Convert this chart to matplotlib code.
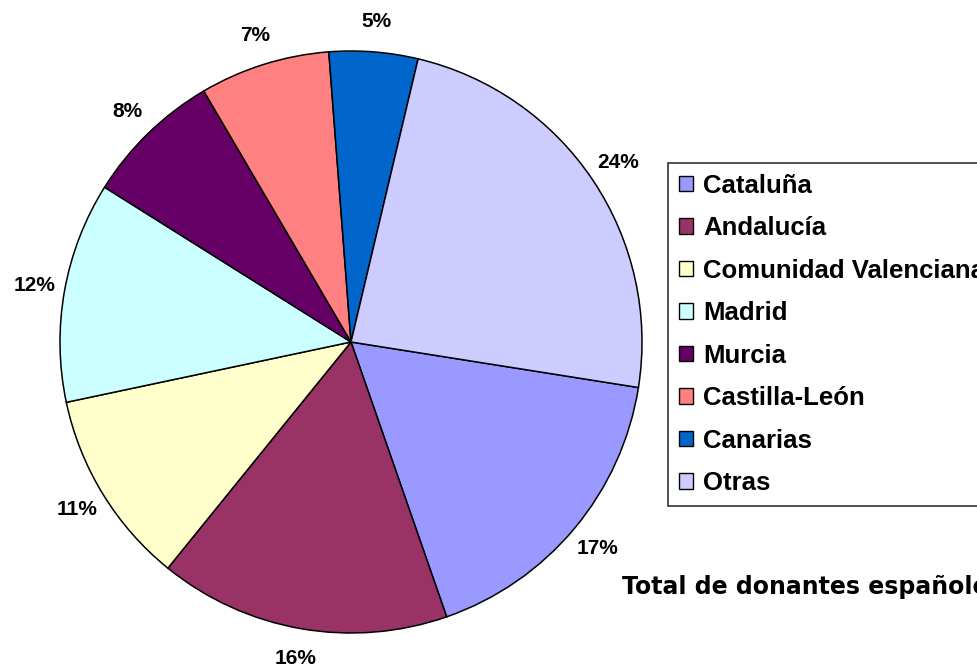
import matplotlib.pyplot as plt
from matplotlib.patches import Patch

# Donantes por comunidad autonoma (%)
regiones = ['Cataluña', 'Andalucía', 'Comunidad Valenciana', 'Madrid',
            'Murcia', 'Castilla-León', 'Canarias', 'Otras']
valores = [17.1, 16.1, 10.8, 12.2, 7.6, 7.2, 4.9, 23.7]
colores = ['#9999FF', '#993366', '#FFFFCC', '#CCFFFF',
           '#660066', '#FF8080', '#0066CC', '#CCCCFF']

plt.rcParams['font.family'] = ['Liberation Sans', 'DejaVu Sans']

fig = plt.figure(figsize=(9.77, 6.70), dpi=100)
fig.patch.set_facecolor('white')

# pie centred at (351, 342) px, radius 291 px
ax = fig.add_axes([60 / 977, 37 / 670, 582 / 977, 582 / 670])
wedges, texts, autotexts = ax.pie(
    valores, colors=colores, startangle=-9, counterclock=False,
    autopct=lambda p: '%d%%' % round(p), pctdistance=1.105,
    wedgeprops={'edgecolor': 'black', 'linewidth': 1.1},
    textprops={'fontsize': 15, 'fontweight': 'bold'})
ax.set_xlim(-1, 1)
ax.set_ylim(-1, 1)

handles = [Patch(facecolor=c, edgecolor='black', linewidth=1.0) for c in colores]
leg = fig.legend(handles, regiones, loc='upper left',
                 bbox_to_anchor=(668 / 977, 1 - 163 / 670),
                 prop={'size': 18.5, 'weight': 'bold'},
                 frameon=True, fancybox=False, borderaxespad=0,
                 handlelength=0.55, handleheight=0.55, handletextpad=0.4,
                 labelspacing=0.72, borderpad=0.42)
leg.get_frame().set_edgecolor('black')
leg.get_frame().set_linewidth(1.2)

fig.text(622 / 977, 1 - 587 / 670, 'Total de donantes españoles',
         fontsize=17, fontweight='bold', family=['DejaVu Sans'],
         va='center', ha='left')

fig.savefig('out.png', dpi=100)
